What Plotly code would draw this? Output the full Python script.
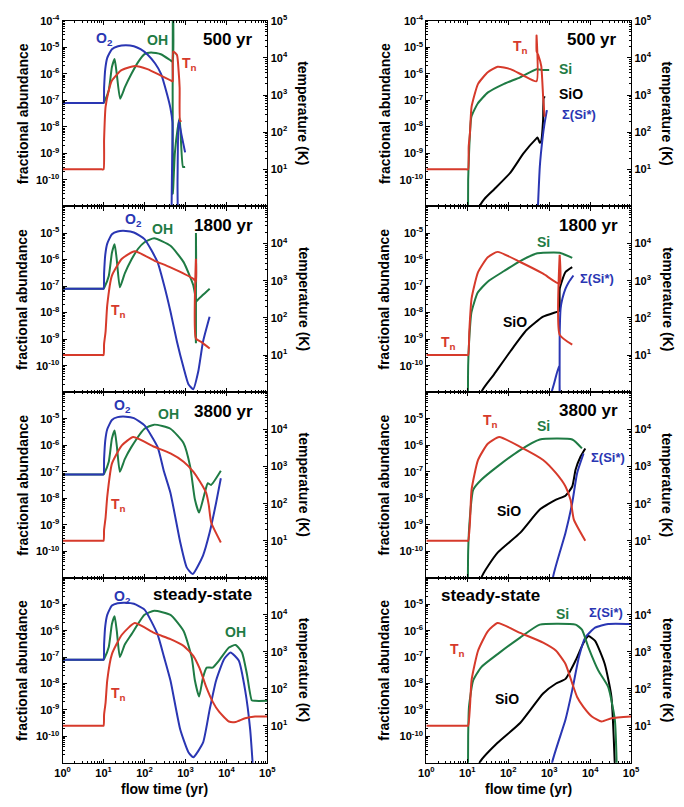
import plotly.graph_objects as go

# ======================= DATA =======================
# ---- 500 yr, left: O2, OH (fractional abundance), Tn (K)
t_o2_500 = [1, 9, 10, 10.3, 11, 12.3, 16, 22.5, 35, 55, 80, 118, 180, 253, 355, 430, 480, 490, 600, 640, 680, 800, 980]
o2_500 = [8e-8, 8e-8, 8e-8, 3e-7, 1.5e-6, 4e-6, 8.5e-6, 1.1e-5, 1.2e-5, 1.1e-5, 8.5e-6, 5.4e-6, 2.5e-6, 1e-6, 1.7e-7,
          5e-8, 1.5e-8, 1e-13, 1e-13, 1e-10, 1.7e-8, 5e-9, 1.1e-9]
t_oh_500 = [1, 9, 10, 10.5, 13.4, 16, 18.6, 21, 25.4, 33.4, 48, 69, 100, 144, 250, 434, 490, 491, 492, 550, 640, 720,
            870, 980]
oh_500 = [8e-8, 8e-8, 8e-8, 9e-8, 2.4e-7, 1.8e-6, 3.6e-6, 1e-6, 1.15e-7, 3.2e-7, 1e-6, 2.7e-6, 5.5e-6, 6.4e-6, 5.5e-6,
          3.2e-6, 2.8e-6, 1e-3, 3e-11, 1e-9, 8e-9, 2.2e-8, 3.1e-10, 3.1e-10]
t_tn_500L = [1, 9, 10, 10.3, 11.2, 13.4, 16, 26.8, 58, 118, 250, 480, 490, 500, 620, 680, 720, 740, 800]
tn_500L = [10, 10, 10, 63, 480, 1330, 2450, 4600, 6100, 5000, 3350, 2350, 2350, 15000, 12000, 4400, 1580, 200, 200]

# ---- 500 yr, right: Si, SiO, Sigma(Si*), Tn
t_si_500 = [10.3, 10.5, 11.2, 12.6, 18, 32, 79, 195, 490, 700, 1000]
si_500 = [1e-13, 1e-10, 1.8e-9, 2.4e-8, 7.6e-8, 2e-7, 4.2e-7, 7.4e-7, 1.5e-6, 1.4e-6, 1.4e-6]
t_sio_500 = [19, 20, 26, 45, 113, 235, 490, 520, 590, 640, 710, 740, 800]
sio_500 = [1e-13, 1e-11, 1.9e-11, 4.4e-11, 1.9e-10, 1e-9, 3.7e-9, 4e-9, 2.5e-9, 3e-9, 1.9e-8, 1.3e-7, 1.3e-7]
t_sis_500 = [470, 590, 680, 770, 880]
sis_500 = [1e-13, 3.2e-10, 3.2e-9, 1.35e-8, 4.3e-8]
t_tn_500R = [1, 9.5, 10.5, 10.8, 11.6, 12.7, 18.3, 31.6, 55, 113, 235, 490, 491, 493, 540, 640, 710, 770]
tn_500R = [10, 10, 10, 40, 93, 480, 2000, 4100, 5800, 5000, 3350, 2350, 40000, 15000, 12000, 6000, 900, 260]

# ---- 1800 yr, left
t_o2_1800 = [1, 9, 10, 10.3, 11, 12.3, 16, 22, 35, 55, 100, 208, 300, 430, 620, 900, 1180, 1550, 2050, 2680, 3880]
o2_1800 = [8e-8, 8e-8, 8e-8, 3e-7, 1.5e-6, 4e-6, 9e-6, 1.15e-5, 1.2e-5, 1.05e-5, 5.9e-6, 8e-7, 1.1e-7, 1.1e-8, 8e-10,
           8.3e-11, 2e-11, 1.3e-11, 6e-11, 8e-10, 7e-9]
t_oh_1800 = [1, 9, 10, 10.5, 13.4, 16, 18.6, 21, 25, 33, 48, 69, 100, 172, 430, 900, 1550, 1800, 1801, 1802, 1803,
             2600, 3900]
oh_1800 = [8e-8, 8e-8, 8e-8, 9e-8, 2.4e-7, 1.8e-6, 3.8e-6, 1e-6, 9e-8, 3e-7, 1e-6, 2.5e-6, 4.5e-6, 6.3e-6, 3.3e-6,
           8e-7, 1.07e-7, 3.4e-8, 1e-5, 7e-10, 2.5e-8, 4.5e-8, 8e-8]
t_tn_1800L = [1, 9, 10, 10.3, 11.2, 12.3, 16, 28, 58, 172, 430, 1550, 1800, 1801, 1802, 2500, 3900]
tn_1800L = [10, 10, 10, 20, 43, 220, 1380, 3900, 6200, 3500, 2300, 1130, 940, 3900, 28, 22, 15]

# ---- 1800 yr, right
t_si_1800 = [10.3, 10.5, 11.2, 12.6, 18, 32, 79, 195, 490, 710, 1800, 3650]
si_1800 = [1e-13, 1e-10, 1.1e-9, 1e-8, 5.7e-8, 1.5e-7, 3.7e-7, 8.8e-7, 1.7e-6, 1.8e-6, 1.8e-6, 1.15e-6]
t_sio_1800 = [21, 22, 45, 113, 280, 710, 1750, 1800, 1810, 2500, 3650]
sio_1800 = [1e-13, 1e-11, 4.7e-11, 3.5e-10, 2.2e-9, 7e-9, 1.15e-8, 1.2e-8, 8e-8, 3.4e-7, 5.2e-7]
t_sis_1800 = [1000, 1300, 1750, 1800, 1801, 1900, 2100, 2500, 3000, 3900]
sis_1800 = [5e-12, 2e-11, 1e-10, 1e-13, 1.4e-9, 1.45e-8, 3.4e-8, 8e-8, 1.4e-7, 2.5e-7]
t_tn_1800R = [1, 9.5, 10.5, 11.2, 12.7, 18.3, 31.6, 55, 195, 710, 1800, 1801, 1802, 3650]
tn_1800R = [10, 10, 10, 44, 330, 1700, 4300, 6000, 3200, 1550, 830, 5000, 35, 19]

# ---- 3800 yr, left
t_o2_3800 = [1, 9, 10, 10.3, 11, 12.3, 16, 22, 35, 55, 100, 208, 300, 430, 745, 1070, 1500, 2680, 3880, 5600, 7300]
o2_3800 = [8e-8, 8e-8, 8e-8, 3e-7, 1.5e-6, 4e-6, 9e-6, 1.15e-5, 1.2e-5, 1.05e-5, 5.6e-6, 8.7e-7, 1e-7, 1.6e-8,
           2.2e-10, 2.5e-11, 1.4e-11, 7e-11, 5e-10, 6.8e-9, 5.7e-8]
t_oh_3800 = [1, 9, 10, 10.5, 13.4, 16, 18.6, 21, 25, 33, 48, 100, 172, 430, 900, 1300, 1700, 2150, 2950, 3500, 4200,
             7300]
oh_3800 = [8e-8, 8e-8, 8e-8, 9e-8, 2.4e-7, 1.8e-6, 3.6e-6, 1e-6, 1e-7, 3e-7, 8.7e-7, 4.2e-6, 6e-6, 4.2e-6, 1.2e-6,
           1.6e-7, 9e-9, 2.9e-9, 1.6e-8, 3.7e-8, 3.2e-8, 1.1e-7]
t_tn_3800L = [1, 9, 10, 10.3, 11.2, 12.3, 16, 28, 53, 172, 430, 900, 1550, 2230, 3200, 3700, 4250, 7300]
tn_3800L = [10, 10, 10, 20, 42, 155, 1200, 3700, 6200, 3400, 2250, 1350, 730, 400, 195, 93, 31, 9]

# ---- 3800 yr, right
t_si_3800 = [10.3, 10.5, 11.6, 13.9, 22, 55, 195, 590, 3650, 6300]
si_3800 = [1e-13, 1e-10, 2e-9, 2.1e-8, 5e-8, 1.6e-7, 6.6e-7, 1.65e-6, 1.65e-6, 7.6e-7]
t_sio_3800 = [21, 22, 55, 195, 590, 1470, 2500, 3650, 4400, 5800, 7600]
sio_3800 = [1e-13, 1e-11, 9e-11, 5e-10, 3.8e-9, 9e-9, 1.26e-8, 2.8e-8, 1.2e-7, 3.7e-7, 7.6e-7]
t_sis_3800 = [1150, 1230, 2500, 3650, 4800, 6900]
sis_3800 = [1e-13, 1e-11, 5e-10, 6.8e-9, 8.9e-8, 4.9e-7]
t_tn_3800R = [1, 9.5, 10.5, 11.6, 12.7, 18.3, 31.6, 60, 195, 710, 1470, 2500, 3330, 4000, 7600]
tn_3800R = [10, 10, 10, 31, 235, 1500, 4100, 6200, 3400, 1500, 660, 290, 125, 37, 10]

# ---- steady-state, left
t_o2_ss = [1, 9, 10, 10.3, 11, 12.3, 16, 22, 35, 55, 100, 208, 300, 430, 745, 1180, 1550, 2680, 3880, 5600, 8800,
           12600, 20000, 28600, 38000, 48000]
o2_ss = [8e-8, 8e-8, 8e-8, 3e-7, 1.5e-6, 4e-6, 9e-6, 1.1e-5, 1.15e-5, 1.05e-5, 6.3e-6, 7.3e-7, 1e-7, 1.3e-8, 1.8e-10,
         2.5e-11, 1.6e-11, 5.7e-11, 1e-9, 1.3e-8, 8.5e-8, 1.5e-7, 7.4e-8, 5.6e-9, 1.8e-10, 1e-12]
t_oh_ss = [1, 9, 10, 10.5, 13.4, 16, 18.6, 21, 25, 33, 48, 100, 172, 430, 900, 1420, 1700, 2150, 2680, 3300, 4600,
           6600, 11500, 16700, 24000, 31600, 41600, 50000, 100000]
oh_ss = [8e-8, 8e-8, 8e-8, 9e-8, 2.4e-7, 1.8e-6, 3.5e-6, 1e-6, 1e-7, 3e-7, 7.3e-7, 4e-6, 5.7e-6, 4e-6, 9.8e-7, 9.8e-8,
         1.3e-8, 3.2e-9, 1.7e-8, 4e-8, 4e-8, 7.4e-8, 2.3e-7, 2.9e-7, 1.5e-7, 2.3e-8, 2.3e-9, 2.2e-9, 2.2e-9]
t_tn_ssL = [1, 9, 10, 10.3, 11.2, 12.3, 16, 28, 58, 172, 430, 900, 1550, 2230, 3200, 4600, 6600, 11500, 16700, 28600,
            50000, 100000]
tn_ssL = [10, 10, 10, 20, 42, 170, 870, 2900, 6000, 3250, 2200, 1450, 780, 350, 112, 45, 24, 13, 12.6, 16, 17.8, 17.8]

# ---- steady-state, right
t_si_ss = [10.3, 10.5, 11, 13.9, 22, 55, 195, 590, 4400, 6300, 9100, 15800, 27500, 40000, 46000]
si_ss = [1e-13, 1e-10, 1.3e-9, 1.3e-8, 4.2e-8, 1.3e-7, 5.5e-7, 1.7e-6, 1.7e-6, 1.1e-6, 2.3e-7, 3.1e-8, 7.4e-9,
         4.3e-10, 1e-12]
t_sio_ss = [19, 20, 55, 195, 710, 1470, 2500, 4400, 6900, 9100, 13200, 22700, 33000, 42000]
sio_ss = [1e-13, 1e-11, 5.7e-11, 3.2e-10, 4.2e-9, 1e-8, 1.5e-8, 7.4e-8, 3.5e-7, 6.3e-7, 4.1e-7, 5.5e-8, 3.2e-9, 1e-12]
t_sis_ss = [1100, 1180, 2500, 3650, 5300, 7600, 13200, 27500, 100000]
sis_ss = [1e-12, 1e-11, 4.3e-10, 5.6e-9, 9.8e-8, 5.5e-7, 1.3e-6, 1.8e-6, 1.8e-6]
t_tn_ssR = [1, 9.5, 10.5, 11.6, 12.7, 18.3, 31.6, 55, 195, 710, 1470, 2500, 3650, 4800, 6900, 11000, 19000, 33000,
            100000]
tn_ssR = [10, 10, 10, 32, 170, 1070, 3600, 6000, 3250, 1780, 1070, 470, 140, 60, 32, 17.8, 13, 16, 17.8]

panel_titles = ["500 yr", "1800 yr", "3800 yr", "steady-state"]
x_tick_exps = [0, 1, 2, 3, 4, 5]

# ======================= STYLE / LAYOUT =======================
W, H = 684, 807
BLUE, GREEN, RED, BLACK = "#2a36b3", "#1f7b44", "#d63a2b", "#000000"
FONT = "Liberation Sans, Arial, Helvetica, sans-serif"
COLS = [(56, 266), (429, 639)]
ROWS = [(13, 202), (202, 391), (391, 580), (580, 768)]

def xd(c):
    return [COLS[c][0] / W, COLS[c][1] / W]

def yd(r):
    return [1 - ROWS[r][1] / H, 1 - ROWS[r][0] / H]

def px(x):
    return x / W

def py(y):
    return 1 - y / H

left_series = [
    ((t_o2_500, o2_500), (t_oh_500, oh_500), (t_tn_500L, tn_500L)),
    ((t_o2_1800, o2_1800), (t_oh_1800, oh_1800), (t_tn_1800L, tn_1800L)),
    ((t_o2_3800, o2_3800), (t_oh_3800, oh_3800), (t_tn_3800L, tn_3800L)),
    ((t_o2_ss, o2_ss), (t_oh_ss, oh_ss), (t_tn_ssL, tn_ssL)),
]
right_series = [
    ((t_si_500, si_500), (t_sio_500, sio_500), (t_sis_500, sis_500), (t_tn_500R, tn_500R)),
    ((t_si_1800, si_1800), (t_sio_1800, sio_1800), (t_sis_1800, sis_1800), (t_tn_1800R, tn_1800R)),
    ((t_si_3800, si_3800), (t_sio_3800, sio_3800), (t_sis_3800, sis_3800), (t_tn_3800R, tn_3800R)),
    ((t_si_ss, si_ss), (t_sio_ss, sio_ss), (t_sis_ss, sis_ss), (t_tn_ssR, tn_ssR)),
]

fig = go.Figure()

def refs(k):
    xr = "x" if k == 1 else f"x{k}"
    yr = "y" if k == 1 else f"y{k}"
    return xr, yr, f"y{k + 8}"

def line(xs, ys, color, xr, yr):
    fig.add_trace(go.Scatter(x=xs, y=ys, mode="lines",
                             line=dict(color=color, width=2, shape="spline", smoothing=0.5),
                             xaxis=xr, yaxis=yr, showlegend=False, hoverinfo="skip"))

for r in range(4):
    k = 2 * r + 1
    xr, yr, tr = refs(k)
    (to2, o2), (toh, oh), (ttn, tn) = left_series[r]
    line(toh, oh, GREEN, xr, yr)
    line(to2, o2, BLUE, xr, yr)
    line(ttn, tn, RED, xr, tr)
    k = 2 * r + 2
    xr, yr, tr = refs(k)
    (tsi, si), (tsio, sio), (tsis, sis), (ttn, tn) = right_series[r]
    line(tsio, sio, BLACK, xr, yr)
    line(tsis, sis, BLUE, xr, yr)
    line(tsi, si, GREEN, xr, yr)
    line(ttn, tn, RED, xr, tr)

def minor_vals(e0, e1):
    return [m * 10.0 ** e for e in range(e0, e1) for m in range(2, 10)]

tickfont = dict(family=FONT, size=11, color="black", weight="bold")
common = dict(type="log", showgrid=False, zeroline=False, showline=True, linecolor="black", linewidth=1.3,
              ticks="inside", ticklen=4, tickwidth=1, tickcolor="black", tickfont=tickfont)
minor_style = dict(ticks="inside", ticklen=2, tickcolor="black", tickwidth=0.8)

layout_axes = {}
for r in range(4):
    for c in range(2):
        k = 2 * r + c + 1
        xr, yr, tr = refs(k)
        xkey = "xaxis" if k == 1 else f"xaxis{k}"
        ykey = "yaxis" if k == 1 else f"yaxis{k}"
        tkey = f"yaxis{k + 8}"
        bottom = (r == 3)
        layout_axes[xkey] = dict(common, domain=xd(c), anchor=yr, range=[0, 5], mirror="ticks",
                                 tickvals=[10.0 ** e for e in x_tick_exps],
                                 ticktext=[f"10<sup>{e}</sup>" for e in x_tick_exps],
                                 showticklabels=bottom,
                                 minor=dict(minor_style, tickvals=minor_vals(0, 5)))
        ab_exps = list(range(-11, -3))
        ab_text = []
        for e in ab_exps:
            show = (-10 <= e <= -5) or (e == -4 and r == 0)
            ab_text.append(f"10<sup>{e}</sup>" if show else " ")
        layout_axes[ykey] = dict(common, domain=yd(r), anchor=xr, range=[-11, -4], side="left",
                                 tickvals=[10.0 ** e for e in ab_exps], ticktext=ab_text,
                                 minor=dict(minor_style, tickvals=minor_vals(-11, -4)))
        t_exps = list(range(0, 6))
        t_text = []
        for e in t_exps:
            show = (1 <= e <= 4) or (e == 5 and r == 0)
            t_text.append(f"10<sup>{e}</sup>" if show else " ")
        layout_axes[tkey] = dict(common, anchor=xr, overlaying=yr, side="right", range=[0, 5],
                                 tickvals=[10.0 ** e for e in t_exps], ticktext=t_text,
                                 minor=dict(minor_style, tickvals=minor_vals(0, 5)))

annotations = []

def ann(text, x, y, color="black", size=14, xanchor="center", angle=0):
    annotations.append(dict(text=text, x=px(x), y=py(y), xref="paper", yref="paper", showarrow=False,
                            xanchor=xanchor, yanchor="middle", textangle=angle,
                            font=dict(family=FONT, size=size, color=color, weight="bold")))

for r in range(4):
    yc = (ROWS[r][0] + ROWS[r][1]) / 2
    ann("fractional abundance", 15, yc, angle=-90)
    ann("temperature (K)", 303, yc, angle=90)
    ann("fractional abundance", 386, yc, angle=-90)
    ann("temperature (K)", 676, yc, angle=90)
ann("flow time (yr)", 161, 795)
ann("flow time (yr)", 534, 795)

ann(panel_titles[0], 253, 32, size=17, xanchor="right")
ann(panel_titles[0], 627, 32, size=17, xanchor="right")
ann(panel_titles[1], 253, 221, size=17, xanchor="right")
ann(panel_titles[1], 628, 221, size=17, xanchor="right")
ann(panel_titles[2], 253, 411, size=17, xanchor="right")
ann(panel_titles[2], 628, 410, size=17, xanchor="right")
ann(panel_titles[3], 252, 597, size=17, xanchor="right")
ann(panel_titles[3], 442, 598, size=17, xanchor="left")

O2 = "O<sub>2</sub>"
TN = "T<sub>n</sub>"
SIS = "Σ(Si*)"
ann(O2, 99, 32, BLUE); ann("OH", 153, 33, GREEN); ann(TN, 186, 57, RED)
ann(TN, 526, 40, RED); ann("Si", 572, 62, GREEN); ann("SiO", 577, 88, BLACK); ann(SIS, 586, 108, BLUE, size=13)
ann(O2, 129, 216, BLUE); ann("OH", 158, 225, GREEN); ann(TN, 113, 308, RED)
ann("Si", 549, 238, GREEN); ann(SIS, 604, 275, BLUE, size=13); ann("SiO", 520, 320, BLACK); ann(TN, 452, 341, RED)
ann(O2, 117, 405, BLUE); ann("OH", 165, 413, GREEN); ann(TN, 113, 506, RED)
ann(TN, 495, 420, RED); ann("Si", 549, 425, GREEN); ann(SIS, 615, 457, BLUE, size=13); ann("SiO", 514, 512, BLACK)
ann(O2, 117, 599, BLUE); ann("OH", 233, 635, GREEN); ann(TN, 113, 698, RED)
ann("Si", 569, 617, GREEN); ann(SIS, 613, 615, BLUE, size=13); ann(TN, 461, 653, RED); ann("SiO", 512, 703, BLACK)

fig.update_layout(width=W, height=H, autosize=False, margin=dict(l=0, r=0, t=0, b=0),
                  paper_bgcolor="white", plot_bgcolor="white", showlegend=False,
                  annotations=annotations, **layout_axes)

fix_page = ("document.documentElement.style.margin='0';document.body.style.margin='0';"
            "document.body.style.padding='0';document.body.style.overflow='hidden';"
            "var d=document.getElementById('{plot_id}');d.style.position='absolute';"
            "d.style.left='0px';d.style.top='0px';")
fig.write_html("out.html", post_script=fix_page, config={"displayModeBar": False})
